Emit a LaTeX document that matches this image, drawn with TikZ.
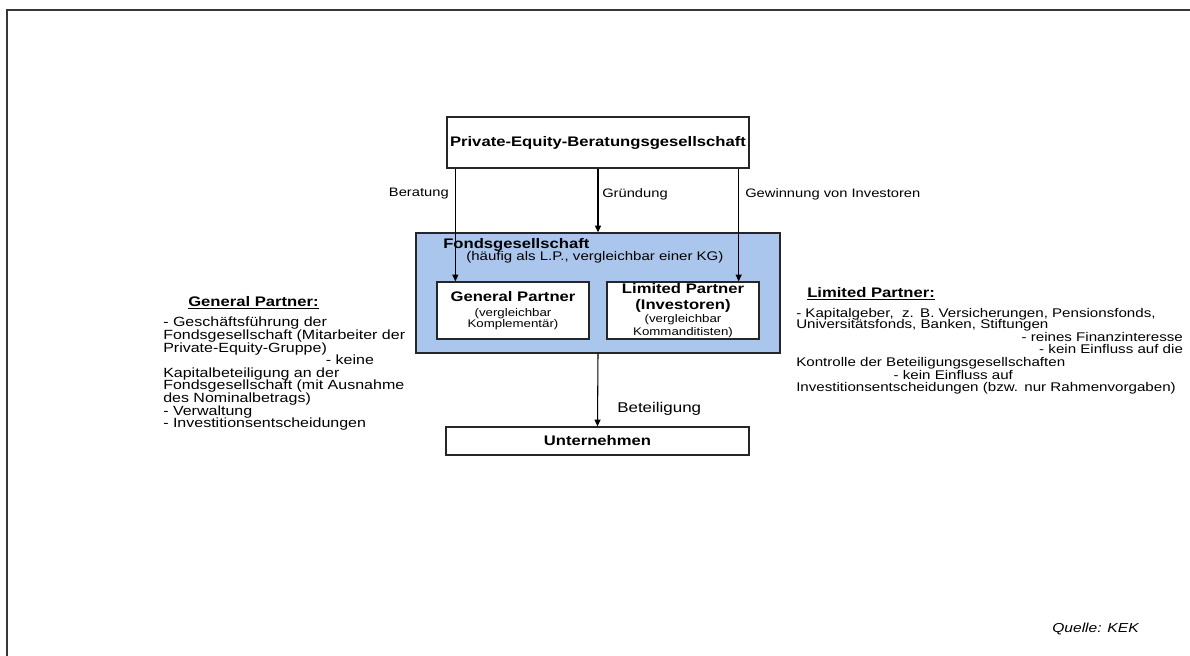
\documentclass[tikz,border=0pt]{standalone}
\usepackage{fontspec}
\setmainfont{Liberation Sans}[FakeStretch=1.2]
\usetikzlibrary{arrows.meta}
\setlength{\lineskiplimit}{-100pt}
\definecolor{fondsblau}{RGB}{170,198,236}
\definecolor{rahmengrau}{RGB}{55,55,55}
\tikzset{
	kasten/.style={draw=black!85, line width=1pt, fill=white, inner sep=0pt, align=center},
	pfeil/.style={-{Triangle[length=5pt,width=4.5pt]}, line width=0.8pt},
	titel/.style={font=\fontsize{10.4}{12}\selectfont\bfseries},
	klein/.style={font=\fontsize{8.3}{8.1}\selectfont},
	beschr/.style={font=\fontsize{9.2}{11}\selectfont, inner sep=0pt},
	seitentext/.style={font=\fontsize{10}{9.45}\selectfont, align=left, inner sep=0pt},
	kopf/.style={font=\fontsize{10.4}{12}\selectfont\bfseries, inner sep=0pt}
}
\begin{document}
\begin{tikzpicture}[x=0.75pt,y=-0.75pt]
				\useasboundingbox (0,0) rectangle (1190,656);
				\draw[line width=1.5pt, rahmengrau] (1190,10) -- (7,10) -- (7,656);
				
				\node[kasten, titel, minimum width=226.5pt, minimum height=38.25pt] (pebg) at (598,142.5) {Private-Equity-Beratungsgesellschaft};
				\node[kasten, fill=fondsblau, minimum width=273pt, minimum height=90pt] (fonds) at (598,293) {};
				\node[titel, anchor=west, inner sep=0pt] (fondsname) at (443,245) {Fondsgesellschaft};
				\node[font=\fontsize{9.4}{11}\selectfont, anchor=west, inner sep=0pt] (fondsform) at (466,257.5) {(häufig als L.P., vergleichbar einer KG)};
				\node[kasten, klein, minimum width=114pt, minimum height=42.75pt] (gp) at (513,310.5) {{\fontsize{10.4}{12}\selectfont\bfseries General Partner}\\[3pt] (vergleichbar\\ Komplementär)};
				\node[kasten, klein, minimum width=114pt, minimum height=42.75pt] (lp) at (683,310.5) {{\fontsize{10.4}{12}\selectfont\bfseries Limited Partner}\\[4pt] {\fontsize{10.4}{12}\selectfont\bfseries (Investoren)}\\[1.5pt] (vergleichbar\\[1.2pt] Kommanditisten)};
				\node[kasten, titel, minimum width=227.25pt, minimum height=21pt] (untern) at (597.5,441) {Unternehmen};
				
				\coordinate (gpein) at ([xshift=14.25pt]gp.north west);
				\coordinate (lpein) at ([xshift=-15.75pt]lp.north east);
				\draw[pfeil] (pebg.south -| gpein) -- (gpein);
				\draw[pfeil] (pebg.south) -- (fonds.north);
				\draw[pfeil] (pebg.south -| lpein) -- (lpein);
				\draw[pfeil] (fonds.south) -- (untern.north);
				
				\node[beschr, anchor=east] (beratung) at (449,194) {Beratung};
				\node[beschr, anchor=west] (gruendung) at (602,194) {Gründung};
				\node[beschr, anchor=west] (gewinnung) at (745,194) {Gewinnung von Investoren};
				\node[beschr, font=\fontsize{10.6}{12}\selectfont, anchor=west] (beteiligung) at (617,409) {Beteiligung};
				
				\node[kopf, anchor=west] (gpkopf) at (188,303) {\underline{General Partner:}};
				\node[seitentext, anchor=north west] (gptext) at (163,317) {- Geschäftsführung der\\ Fondsgesellschaft (Mitarbeiter der\\ Private-Equity-Gruppe)\\ \hspace*{122pt}- keine\\ Kapitalbeteiligung an der\\ Fondsgesellschaft (mit Ausnahme\\ des Nominalbetrags)\\ - Verwaltung\\ - Investitionsentscheidungen};
				
				\node[kopf, anchor=west] (lpkopf) at (807,294) {\underline{Limited Partner:}};
				\node[seitentext, font=\fontsize{9.45}{9.45}\selectfont, text width=290pt, anchor=north west] (lptext) at (796,308) {- Kapitalgeber,\ \ z. B. Versicherungen, Pensionsfonds,\\[-1pt] Universitätsfonds, Banken, Stiftungen\\ \hspace*{\fill}- reines Finanzinteresse\\ \hspace*{\fill}- kein Einfluss auf die\\ Kontrolle der Beteiligungsgesellschaften\\ \hspace*{73pt}- kein Einfluss auf\\ Investitionsentscheidungen (bzw. nur Rahmenvorgaben)};
				
				\node[font=\fontsize{9.75}{12}\selectfont\itshape, anchor=west, inner sep=0pt] (quelle) at (1052,629) {Quelle: KEK};
\end{tikzpicture}
\end{document}
